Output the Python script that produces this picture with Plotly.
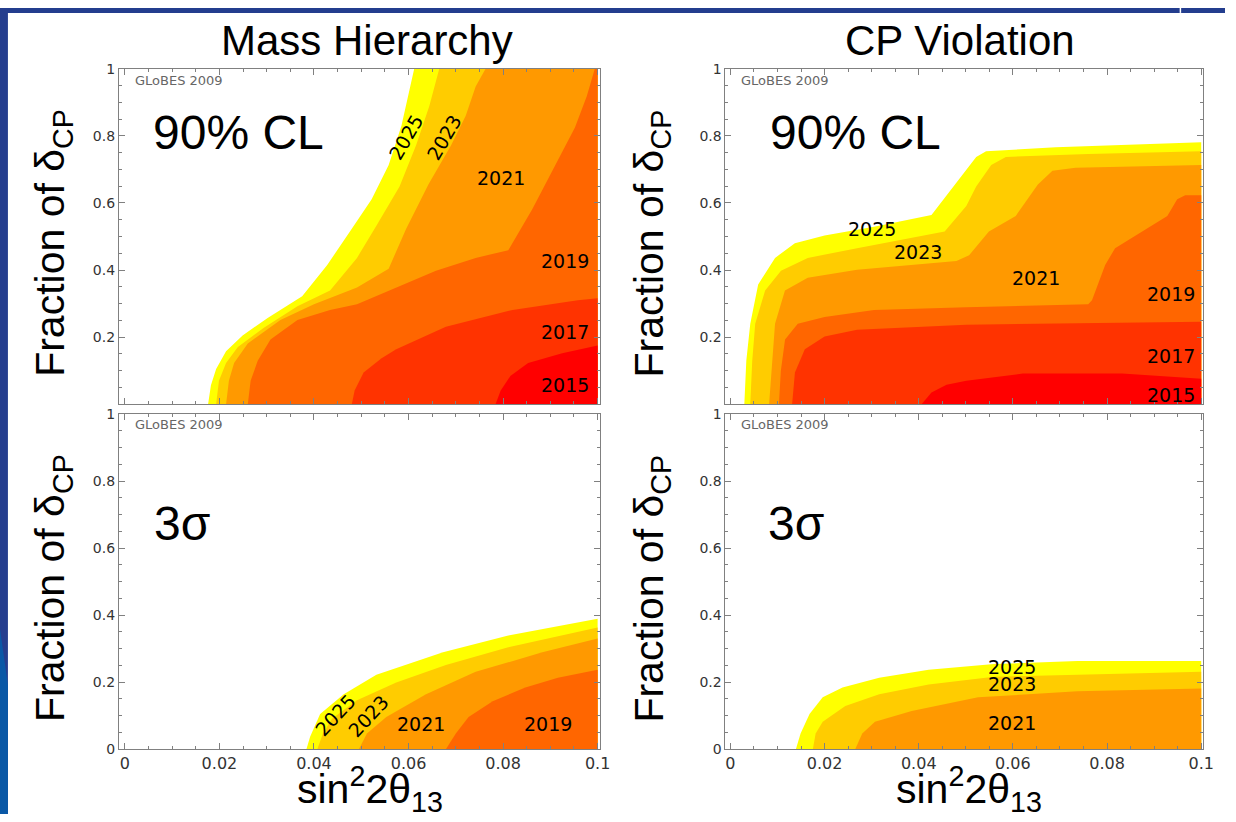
import plotly.graph_objects as go

W, H = 1236, 822


def px(v):
    return v / W


def py(v):
    return 1 - v / H


YEARS = ["2025", "2023", "2021", "2019", "2017", "2015"]
COLORS = ["#FFFF00", "#FFCC00", "#FF9900", "#FF6600", "#FF3300", "#FF0000"]

XTICKS = [0, 0.02, 0.04, 0.06, 0.08, 0.1]
XTICKTEXT = ["0", "0.02", "0.04", "0.06", "0.08", "0.1"]
YTICKS = [0, 0.2, 0.4, 0.6, 0.8, 1]
YTICKTEXT = ["0", "0.2", "0.4", "0.6", "0.8", "1"]
YTICKTEXT_TOP = ["", "0.2", "0.4", "0.6", "0.8", "1"]

# ---------------- Mass Hierarchy, 90% CL ----------------
mh90_2025_x = [0.0176, 0.0182, 0.0193, 0.0214, 0.0249, 0.0302, 0.0375, 0.0428, 0.0480, 0.0522, 0.0558, 0.0585, 0.0612]
mh90_2025_y = [0.0, 0.056, 0.105, 0.158, 0.205, 0.257, 0.322, 0.415, 0.523, 0.611, 0.713, 0.830, 1.0]
mh90_2023_x = [0.0193, 0.0199, 0.0214, 0.0239, 0.0294, 0.0365, 0.0434, 0.0491, 0.0532, 0.0581, 0.0616, 0.0644, 0.0665]
mh90_2023_y = [0.0, 0.070, 0.123, 0.170, 0.228, 0.292, 0.339, 0.436, 0.532, 0.649, 0.772, 0.889, 1.0]
mh90_2021_x = [0.0214, 0.0220, 0.0231, 0.0260, 0.0329, 0.0400, 0.0491, 0.0558, 0.0595, 0.0642, 0.0690, 0.0721, 0.0742, 0.0763]
mh90_2021_y = [0.0, 0.070, 0.123, 0.181, 0.251, 0.298, 0.348, 0.404, 0.523, 0.655, 0.772, 0.860, 0.947, 1.0]
mh90_2019_x = [0.0260, 0.0266, 0.0281, 0.0308, 0.0365, 0.0434, 0.0491, 0.0574, 0.0658, 0.0742, 0.0811, 0.0862, 0.0916, 0.0952, 0.0977, 0.0994]
mh90_2019_y = [0.0, 0.070, 0.129, 0.193, 0.251, 0.281, 0.298, 0.348, 0.398, 0.436, 0.459, 0.582, 0.728, 0.825, 0.918, 1.0]
mh90_2017_x = [0.0480, 0.0486, 0.0505, 0.0543, 0.0574, 0.0679, 0.0820, 0.0958, 0.1]
mh90_2017_y = [0.0, 0.041, 0.094, 0.137, 0.164, 0.231, 0.281, 0.310, 0.316]
mh90_2015_x = [0.0784, 0.0795, 0.0816, 0.0853, 0.0925, 0.1]
mh90_2015_y = [0.0, 0.041, 0.085, 0.123, 0.152, 0.175]

# ---------------- CP Violation, 90% CL ----------------
cp90_2025_x = [0.00295, 0.00337, 0.00421, 0.00589, 0.00947, 0.01368, 0.0200, 0.0305, 0.0427, 0.0465, 0.0501, 0.0522, 0.0543, 0.0691, 0.1]
cp90_2025_y = [0.0, 0.129, 0.240, 0.357, 0.436, 0.480, 0.503, 0.529, 0.564, 0.632, 0.699, 0.737, 0.754, 0.766, 0.781]
cp90_2023_x = [0.00421, 0.00463, 0.00526, 0.00737, 0.01074, 0.01642, 0.0269, 0.0455, 0.0501, 0.0522, 0.0554, 0.0585, 0.0760, 0.1]
cp90_2023_y = [0.0, 0.129, 0.240, 0.339, 0.398, 0.436, 0.465, 0.515, 0.591, 0.649, 0.713, 0.737, 0.746, 0.754]
cp90_2021_x = [0.00821, 0.00884, 0.00947, 0.01158, 0.01642, 0.0269, 0.0480, 0.0507, 0.0549, 0.0606, 0.0632, 0.0653, 0.0684, 0.0733, 0.1]
cp90_2021_y = [0.0, 0.129, 0.240, 0.339, 0.377, 0.401, 0.427, 0.444, 0.515, 0.561, 0.611, 0.655, 0.696, 0.705, 0.713]
cp90_2019_x = [0.0103, 0.0107, 0.0116, 0.0143, 0.0200, 0.0305, 0.0501, 0.0760, 0.0768, 0.0796, 0.0817, 0.0874, 0.0928, 0.0949, 0.0966, 0.1]
cp90_2019_y = [0.0, 0.099, 0.193, 0.240, 0.260, 0.281, 0.289, 0.298, 0.310, 0.415, 0.465, 0.515, 0.561, 0.611, 0.623, 0.623]
cp90_2017_x = [0.0131, 0.0137, 0.0158, 0.0200, 0.0269, 0.0501, 0.1]
cp90_2017_y = [0.0, 0.094, 0.164, 0.202, 0.222, 0.237, 0.246]
cp90_2015_x = [0.0406, 0.0427, 0.0459, 0.0501, 0.0621, 0.0832, 0.1]
cp90_2015_y = [0.0, 0.035, 0.058, 0.070, 0.091, 0.091, 0.076]

# ---------------- Mass Hierarchy, 3 sigma ----------------
mh3s_2025_x = [0.0384, 0.0392, 0.0413, 0.0463, 0.0532, 0.0673, 0.0811, 0.1]
mh3s_2025_y = [0.0, 0.038, 0.105, 0.164, 0.222, 0.289, 0.339, 0.389]
mh3s_2023_x = [0.0407, 0.0419, 0.0438, 0.0491, 0.0574, 0.0679, 0.0811, 0.1]
mh3s_2023_y = [0.0, 0.047, 0.091, 0.146, 0.199, 0.251, 0.304, 0.363]
mh3s_2021_x = [0.0495, 0.0512, 0.0553, 0.0637, 0.0742, 0.0883, 0.1]
mh3s_2021_y = [0.0, 0.047, 0.096, 0.164, 0.231, 0.289, 0.330]
mh3s_2019_x = [0.0679, 0.0700, 0.0727, 0.0778, 0.0847, 0.0916, 0.1]
mh3s_2019_y = [0.0, 0.047, 0.096, 0.143, 0.184, 0.213, 0.237]

# ---------------- CP Violation, 3 sigma ----------------
cp3s_2025_x = [0.0139, 0.0149, 0.0168, 0.0196, 0.0238, 0.0316, 0.0421, 0.0560, 0.0737, 0.1]
cp3s_2025_y = [0.0, 0.047, 0.105, 0.155, 0.184, 0.213, 0.237, 0.254, 0.263, 0.263]
cp3s_2023_x = [0.0175, 0.0181, 0.0196, 0.0244, 0.0316, 0.0421, 0.0560, 0.1]
cp3s_2023_y = [0.0, 0.047, 0.082, 0.129, 0.164, 0.193, 0.216, 0.231]
cp3s_2021_x = [0.0265, 0.0280, 0.0307, 0.0385, 0.0526, 0.0737, 0.1]
cp3s_2021_y = [0.0, 0.047, 0.082, 0.114, 0.155, 0.173, 0.181]

# ---------------- contour labels (year, x, y, angle) ----------------
mh90_labels = [("2025", 0.0595, 0.796, -60), ("2023", 0.0676, 0.796, -60), ("2021", 0.0795, 0.675, 0),
               ("2019", 0.0931, 0.427, 0), ("2017", 0.0931, 0.216, 0), ("2015", 0.0931, 0.056, 0)]
cp90_labels = [("2025", 0.0301, 0.523, 0), ("2023", 0.0399, 0.455, 0), ("2021", 0.0648, 0.377, 0),
               ("2019", 0.0935, 0.328, 0), ("2017", 0.0935, 0.143, 0), ("2015", 0.0935, 0.026, 0)]
mh3s_labels = [("2025", 0.0445, 0.103, -47), ("2023", 0.0515, 0.100, -47), ("2021", 0.0627, 0.076, 0),
               ("2019", 0.0896, 0.076, 0)]
cp3s_labels = [("2025", 0.0599, 0.246, 0), ("2023", 0.0599, 0.195, 0), ("2021", 0.0599, 0.078, 0)]

panels = [
    dict(ax="", curves=[(mh90_2025_x, mh90_2025_y), (mh90_2023_x, mh90_2023_y), (mh90_2021_x, mh90_2021_y),
                        (mh90_2019_x, mh90_2019_y), (mh90_2017_x, mh90_2017_y), (mh90_2015_x, mh90_2015_y)],
         labels=mh90_labels),
    dict(ax="2", curves=[(cp90_2025_x, cp90_2025_y), (cp90_2023_x, cp90_2023_y), (cp90_2021_x, cp90_2021_y),
                         (cp90_2019_x, cp90_2019_y), (cp90_2017_x, cp90_2017_y), (cp90_2015_x, cp90_2015_y)],
         labels=cp90_labels),
    dict(ax="3", curves=[(mh3s_2025_x, mh3s_2025_y), (mh3s_2023_x, mh3s_2023_y), (mh3s_2021_x, mh3s_2021_y),
                         (mh3s_2019_x, mh3s_2019_y)],
         labels=mh3s_labels),
    dict(ax="4", curves=[(cp3s_2025_x, cp3s_2025_y), (cp3s_2023_x, cp3s_2023_y), (cp3s_2021_x, cp3s_2021_y)],
         labels=cp3s_labels),
]

XMAX, YMAX = XTICKS[-1], YTICKS[-1]


def region(xs, ys):
    X, Y = list(xs), list(ys)
    if Y[-1] >= YMAX and X[-1] < XMAX:
        X.append(XMAX)
        Y.append(YMAX)
    X.append(XMAX)
    Y.append(0.0)
    return X, Y


fig = go.Figure()
annotations = []
LABEL_FONT = dict(family="DejaVu Sans", size=19, color="black")

for p in panels:
    xa, ya = "x" + p["ax"], "y" + p["ax"]
    for i, (xs, ys) in enumerate(p["curves"]):
        X, Y = region(xs, ys)
        fig.add_trace(go.Scatter(x=X, y=Y, mode="lines", fill="toself", fillcolor=COLORS[i],
                                 line=dict(width=0, color=COLORS[i]), hoverinfo="skip",
                                 showlegend=False, xaxis=xa, yaxis=ya))
    for (txt, lx, ly, ang) in p["labels"]:
        annotations.append(dict(x=lx, y=ly, xref=xa, yref=ya, text=txt, showarrow=False,
                                textangle=ang, font=LABEL_FONT, xanchor="center", yanchor="middle"))

FRAME = "#808080"
FONT = "Liberation Sans, Arial, sans-serif"


def xaxis(domain, rng, anchor, labels):
    return dict(domain=domain, range=rng, anchor=anchor, showgrid=False, zeroline=False,
                showline=True, linecolor=FRAME, linewidth=1, mirror="allticks",
                ticks="inside", ticklen=6, tickcolor=FRAME, tickwidth=1,
                tickmode="array", tickvals=XTICKS, ticktext=XTICKTEXT, showticklabels=labels,
                tickfont=dict(family="DejaVu Sans", size=16, color="#333333"),
                minor=dict(tick0=0, dtick=0.005, ticks="inside", ticklen=3, tickcolor=FRAME),
                fixedrange=True)


def yaxis(domain, anchor, ticktext):
    return dict(domain=domain, range=[0, 1], anchor=anchor, showgrid=False, zeroline=False,
                showline=True, linecolor=FRAME, linewidth=1, mirror="allticks",
                ticks="inside", ticklen=6, tickcolor=FRAME, tickwidth=1,
                tickmode="array", tickvals=YTICKS, ticktext=ticktext,
                tickfont=dict(family="DejaVu Sans", size=14, color="#333333"),
                minor=dict(tick0=0, dtick=0.05, ticks="inside", ticklen=3, tickcolor=FRAME),
                fixedrange=True)


XL = [px(120), px(605)]
XR = [px(732), px(1214)]
YT = [py(404), py(62)]
YB = [py(756), py(414)]
RNG_L = [-6 / 4770, 0.1 + 2 / 4770]
RNG_R = [-5 / 4750, 0.1 + 2 / 4750]

# Titles and axis titles
TITLE_FONT = dict(family=FONT, size=42, color="black")
for txt, cx in [("Mass Hierarchy", 370), ("CP Violation", 969)]:
    annotations.append(dict(x=px(cx), y=py(33), xref="paper", yref="paper", text=txt, showarrow=False,
                            font=TITLE_FONT, xanchor="center", yanchor="middle"))
for cx in [54, 658]:
    for cy in [240, 592]:
        annotations.append(dict(x=px(cx), y=py(cy), xref="paper", yref="paper",
                                text="Fraction of δ<sub>CP</sub>", showarrow=False, textangle=-90,
                                font=dict(family=FONT, size=41, color="black"),
                                xanchor="center", yanchor="middle"))
for cx in [373, 978]:
    annotations.append(dict(x=px(cx), y=py(797), xref="paper", yref="paper",
                            text="sin<sup>2</sup>2θ<sub>13</sub>", showarrow=False,
                            font=dict(family=FONT, size=41, color="black"),
                            xanchor="center", yanchor="middle"))

BIG = dict(family=FONT, size=48, color="black")
for txt, cx, cy in [("90% CL", 241, 127), ("90% CL", 863, 127), ("3σ", 184, 526), ("3σ", 803, 526)]:
    annotations.append(dict(x=px(cx), y=py(cy), xref="paper", yref="paper", text=txt, showarrow=False,
                            font=BIG, xanchor="center", yanchor="middle"))

for lx, ly in [(134, 74), (746, 74), (134, 425), (746, 425)]:
    annotations.append(dict(x=px(lx), y=py(ly), xref="paper", yref="paper", text="GLoBES 2009",
                            showarrow=False, font=dict(family="DejaVu Sans", size=13, color="#666666"),
                            xanchor="left", yanchor="middle"))

shapes = [
    dict(type="rect", xref="paper", yref="paper", x0=0, x1=1, y0=py(5), y1=1,
         fillcolor="#233D8E", line=dict(width=0), layer="below"),
    dict(type="rect", xref="paper", yref="paper", x0=0, x1=px(8), y0=0, y1=1,
         fillcolor="#253E8E", line=dict(width=0), layer="below"),
    dict(type="path", xref="paper", yref="paper",
         path=f"M 0 {py(633)} Q {px(3)} {py(655)} {px(8)} {py(690)} L {px(8)} 0 L 0 0 Z",
         fillcolor="#0A58A6", line=dict(width=0), layer="below"),
    dict(type="line", xref="paper", yref="paper", x0=px(1191), x1=px(1191), y0=py(0), y1=py(5),
         line=dict(color="white", width=1.5), layer="below"),
]

fig.update_layout(
    width=W, height=H, autosize=False,
    margin=dict(l=0, r=0, t=0, b=0, pad=0),
    paper_bgcolor="white", plot_bgcolor="white",
    showlegend=False,
    xaxis=xaxis(XL, RNG_L, "y", False),
    yaxis=yaxis(YT, "x", YTICKTEXT_TOP),
    xaxis2=xaxis(XR, RNG_R, "y2", False),
    yaxis2=yaxis(YT, "x2", YTICKTEXT_TOP),
    xaxis3=xaxis(XL, RNG_L, "y3", True),
    yaxis3=yaxis(YB, "x3", YTICKTEXT),
    xaxis4=xaxis(XR, RNG_R, "y4", True),
    yaxis4=yaxis(YB, "x4", YTICKTEXT),
    annotations=annotations,
    shapes=shapes,
)

POST = (
    "document.documentElement.style.margin='0';"
    "document.documentElement.style.overflow='hidden';"
    "document.body.style.margin='0';document.body.style.padding='0';"
    "document.body.style.overflow='hidden';"
    "var d=document.getElementsByClassName('plotly-graph-div')[0];"
    "d.style.position='fixed';d.style.left='0px';d.style.top='0px';"
)

fig.write_html("out.html", config={"displayModeBar": False}, post_script=POST)
